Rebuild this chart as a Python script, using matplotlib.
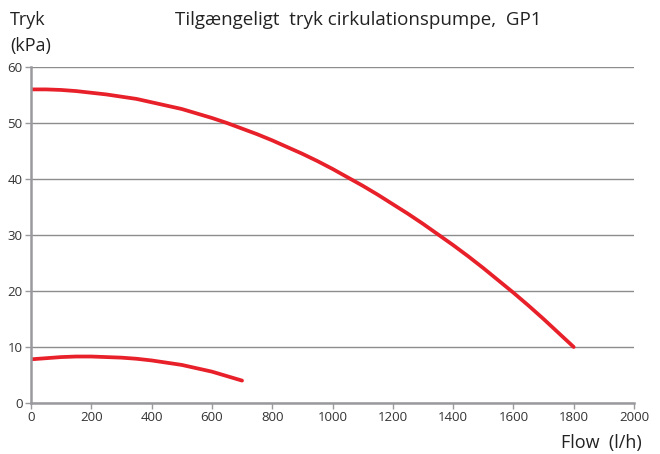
import matplotlib.pyplot as plt

plt.rcParams["font.family"] = ["Open Sans", "DejaVu Sans"]

# flow (l/h) and available pressure (kPa), upper and lower pump curve
flow_high = [0, 50, 100, 150, 200, 250, 300, 350, 400, 450, 500, 550, 600,
             650, 700, 750, 800, 850, 900, 950, 1000, 1050, 1100, 1150, 1200,
             1250, 1300, 1350, 1400, 1450, 1500, 1550, 1600, 1650, 1700, 1750, 1800]
tryk_high = [56.0, 56.0, 55.9, 55.7, 55.4, 55.1, 54.7, 54.3, 53.7, 53.1, 52.5,
             51.7, 50.9, 50.0, 49.0, 48.0, 46.9, 45.7, 44.5, 43.2, 41.8, 40.3,
             38.8, 37.2, 35.5, 33.8, 32.0, 30.1, 28.2, 26.2, 24.1, 21.9, 19.7,
             17.4, 15.0, 12.5, 10.0]

flow_low = [0, 50, 100, 150, 200, 250, 300, 350, 400, 450, 500, 550, 600, 650, 700]
tryk_low = [7.8, 8.0, 8.2, 8.3, 8.3, 8.2, 8.1, 7.9, 7.6, 7.2, 6.8, 6.2, 5.6, 4.8, 4.0]

x_ticks = [0, 200, 400, 600, 800, 1000, 1200, 1400, 1600, 1800, 2000]
y_ticks = [0, 10, 20, 30, 40, 50, 60]

fig = plt.figure(figsize=(6.6, 4.54), dpi=100)
ax = fig.add_axes([31 / 660, 1 - 403 / 454, 603 / 660, 336 / 454])

red = "#e8202a"
ax.plot(flow_high, tryk_high, color=red, linewidth=2.7, solid_capstyle="round")
ax.plot(flow_low, tryk_low, color=red, linewidth=2.7, solid_capstyle="round")

ax.set_xlim(0, 2000)
ax.set_ylim(0, 60)
ax.set_xticks(x_ticks)
ax.set_yticks(y_ticks)
ax.yaxis.grid(True, color="#8c8c8c", linewidth=1.0)
ax.set_axisbelow(True)

for side in ["top", "right"]:
    ax.spines[side].set_visible(False)
for side in ["left", "bottom"]:
    ax.spines[side].set_color("#9a9a9e")
    ax.spines[side].set_linewidth(1.8)

ax.tick_params(axis="both", colors="#9a9a9e", labelcolor="#333333",
               labelsize=9.5, length=4, width=1.0, pad=2)

fig.text(10 / 660, 1 - 20 / 454, "Tryk", fontsize=13, color="#222222", va="center")
fig.text(10 / 660, 1 - 46 / 454, "(kPa)", fontsize=13, color="#222222", va="center")
fig.text(358 / 660, 1 - 20 / 454, "Tilgængeligt  tryk cirkulationspumpe,  GP1",
         fontsize=13.5, color="#222222", ha="center", va="center")
fig.text(642 / 660, 1 - 443 / 454, "Flow  (l/h)", fontsize=13, color="#222222",
         ha="right", va="center")

plt.savefig("out.png", dpi=100)
